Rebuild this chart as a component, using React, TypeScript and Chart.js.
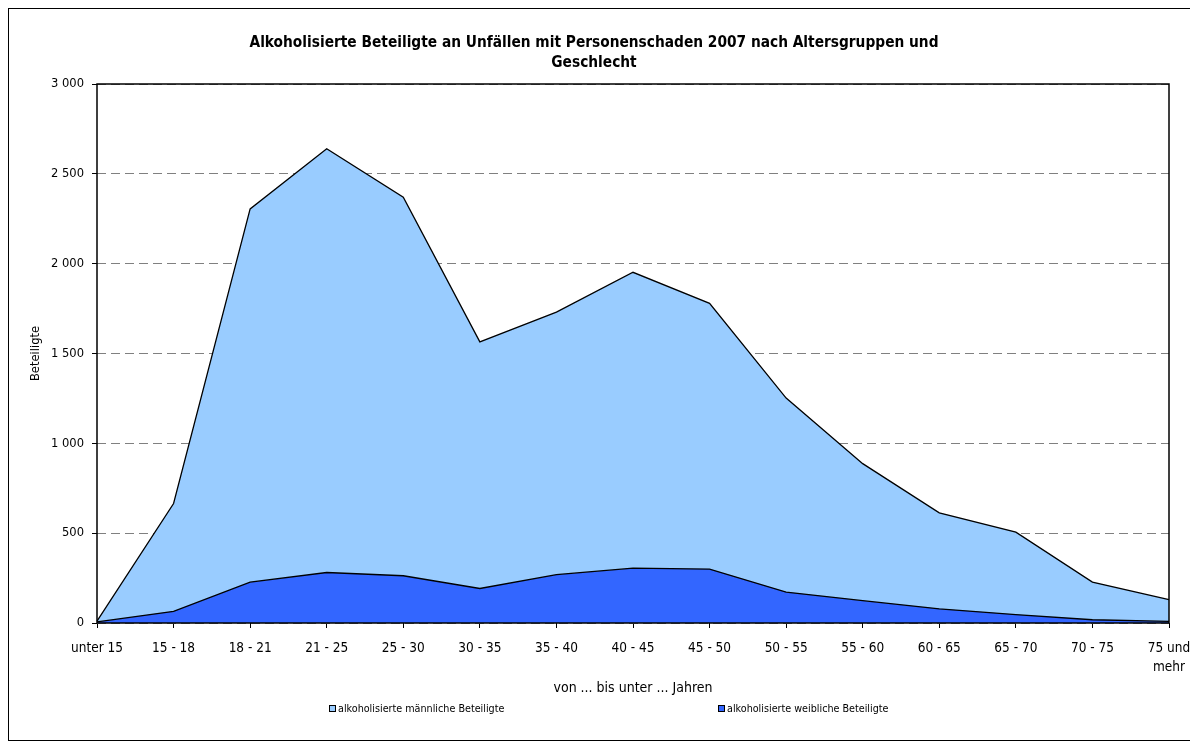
import React, { useEffect, useRef } from 'react';
import { Chart, registerables } from 'chart.js';

Chart.register(...registerables);

const categories: (string | string[])[] = [
  'unter 15', '15 - 18', '18 - 21', '21 - 25', '25 - 30', '30 - 35', '35 - 40',
  '40 - 45', '45 - 50', '50 - 55', '55 - 60', '60 - 65', '65 - 70', '70 - 75', ['75 und', 'mehr'],
];
const maleValues = [10, 665, 2305, 2640, 2370, 1565, 1730, 1952, 1779, 1252, 887, 613, 506, 228, 130];
const femaleValues = [6, 65, 227, 281, 263, 192, 269, 305, 300, 172, 124, 79, 47, 18, 9];
const yTickLabels = ['0', '500', '1 000', '1 500', '2 000', '2 500', '3 000'];
const seriesNames = ['alkoholisierte männliche Beteiligte', 'alkoholisierte weibliche Beteiligte'];
const titleLines = ['Alkoholisierte Beteiligte an Unfällen mit Personenschaden 2007 nach Altersgruppen und', 'Geschlecht'];
const xAxisTitle = 'von ... bis unter ... Jahren';
const yAxisTitle = 'Beteiligte';
const yMin = 0;
const yMax = 3000;
const yStep = 500;

const FONT = "'DejaVu Sans Condensed', 'DejaVu Sans', sans-serif";
const MALE_COLOR = '#99CCFF';
const FEMALE_COLOR = '#3366FF';

const framePlugin = {
  id: 'plotFrame',
  afterDatasetsDraw(chart: any) {
    const { ctx, chartArea } = chart;
    const l = Math.round(chartArea.left);
    const t = Math.round(chartArea.top);
    const r = Math.round(chartArea.right);
    const b = Math.round(chartArea.bottom);
    ctx.save();
    ctx.strokeStyle = '#000';
    ctx.lineWidth = 1.5;
    ctx.strokeRect(l, t, r - l, b - t);
    ctx.restore();
  },
};

const legendPlugin = {
  id: 'customLegend',
  afterDraw(chart: any) {
    const ctx = chart.ctx;
    const y = chart.height - 31;
    const starts = [0.271, 0.6];
    chart.data.datasets.forEach((ds: any, i: number) => {
      const x = Math.round(chart.width * starts[i]);
      ctx.save();
      ctx.fillStyle = ds.backgroundColor;
      ctx.fillRect(x, y - 4, 7, 7);
      ctx.strokeStyle = '#000';
      ctx.lineWidth = 1;
      ctx.strokeRect(x + 0.5, y - 3.5, 6, 6);
      ctx.fillStyle = '#000';
      ctx.font = `10.7px ${FONT}`;
      ctx.textBaseline = 'middle';
      ctx.textAlign = 'left';
      ctx.fillText(ds.label, x + 9, y);
      ctx.restore();
    });
  },
};

export default function App() {
  const canvasRef = useRef<HTMLCanvasElement | null>(null);

  useEffect(() => {
    if (!canvasRef.current) return;
    const chart = new Chart(canvasRef.current, {
      type: 'line',
      data: {
        labels: categories as any,
        datasets: [
          {
            label: seriesNames[0],
            data: maleValues,
            backgroundColor: MALE_COLOR,
            borderColor: '#000',
            borderWidth: 1.3,
            fill: 'origin',
            pointRadius: 0,
            tension: 0,
            order: 2,
          },
          {
            label: seriesNames[1],
            data: femaleValues,
            backgroundColor: FEMALE_COLOR,
            borderColor: '#000',
            borderWidth: 1.3,
            fill: 'origin',
            pointRadius: 0,
            tension: 0,
            order: 1,
          },
        ],
      },
      options: {
        animation: false,
        responsive: true,
        maintainAspectRatio: false,
        layout: { padding: { left: 10, right: 21, top: 0, bottom: 37 } },
        plugins: {
          legend: { display: false },
          tooltip: { enabled: false },
          title: {
            display: true,
            text: titleLines,
            color: '#000',
            font: { family: FONT, size: 15.3, weight: 'bold', lineHeight: 20 / 15.3 },
            padding: { top: 24, bottom: 11 },
          },
        },
        scales: {
          x: {
            type: 'category',
            offset: false,
            grid: {
              display: true,
              drawOnChartArea: false,
              drawTicks: true,
              tickLength: 5,
              tickColor: '#000',
              tickWidth: 1,
            },
            border: { display: false },
            ticks: {
              color: '#000',
              font: { family: FONT, size: 13.5, lineHeight: 1.4 },
              padding: 11,
              maxRotation: 0,
              minRotation: 0,
              autoSkip: false,
            },
            title: {
              display: true,
              text: xAxisTitle,
              color: '#000',
              font: { family: FONT, size: 14, lineHeight: 1.2 },
              padding: { top: 0, bottom: 6 },
            },
            afterFit: (s: any) => {
              s.height = 80;
              s.paddingLeft = 0;
              s.paddingRight = 0;
            },
          },
          y: {
            min: yMin,
            max: yMax,
            ticks: {
              stepSize: yStep,
              color: '#000',
              font: { family: FONT, size: 12.8 },
              padding: 8,
              callback: (_v: any, i: number) => yTickLabels[i],
            },
            grid: {
              color: '#808080',
              lineWidth: 1,
              tickLength: 5,
              tickColor: '#000',
              tickBorderDash: [],
            },
            border: { display: false, dash: [9, 5] },
            title: {
              display: true,
              text: yAxisTitle,
              color: '#000',
              font: { family: FONT, size: 12.8, lineHeight: 1.2 },
              padding: { top: 9, bottom: 0 },
            },
            afterFit: (s: any) => {
              s.width = 78;
            },
          },
        },
      },
      plugins: [framePlugin, legendPlugin],
    });
    return () => chart.destroy();
  }, []);

  return (
    <div
      style={{
        width: 1183,
        height: 733,
        border: '1px solid #000',
        boxSizing: 'border-box',
        background: '#fff',
      }}
    >
      <canvas ref={canvasRef} />
    </div>
  );
}
